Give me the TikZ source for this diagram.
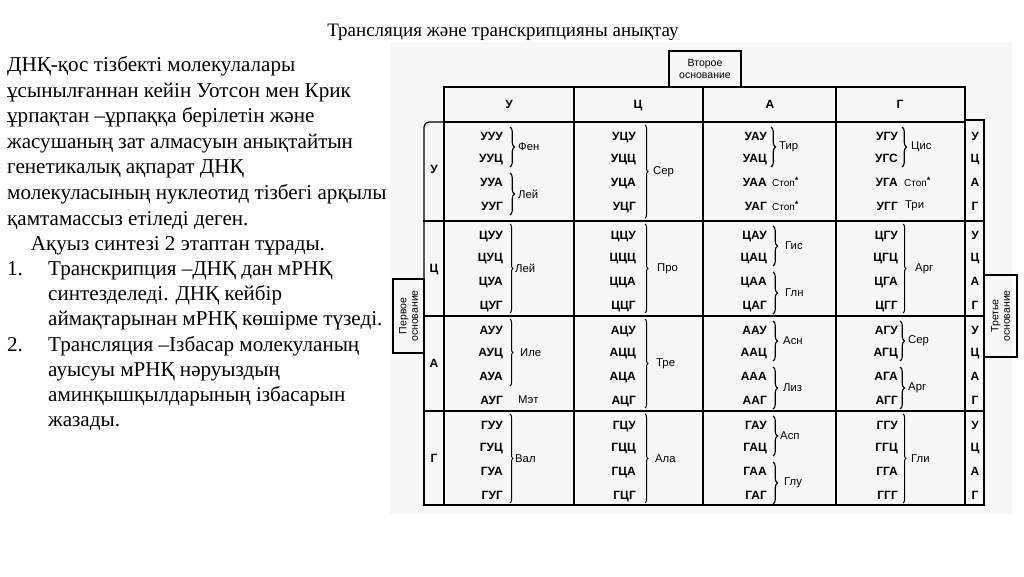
\documentclass[tikz,border=0pt]{standalone}
\usepackage{fontspec}
\setmainfont{Liberation Serif}
\setsansfont{Liberation Sans}
\usetikzlibrary{decorations.pathreplacing}
\tikzset{
  body/.style={anchor=base west, inner sep=0pt, font=\fontsize{21.1}{25}\selectfont},
  ttl/.style={anchor=base, inner sep=0pt, font=\fontsize{19}{21}\selectfont},
  codon/.style={anchor=east, inner sep=0pt, text height=8.6pt, text depth=0pt, font=\sffamily\bfseries\fontsize{12}{13}\selectfont},
  aa/.style={anchor=west, inner sep=0pt, font=\sffamily\fontsize{11.3}{13}\selectfont},
  stp/.style={anchor=west, inner sep=0pt, font=\sffamily\fontsize{10}{11}\selectfont},
  basel/.style={inner sep=0pt, text height=8.6pt, text depth=0pt, font=\sffamily\bfseries\fontsize{12}{13}\selectfont},
  boxlbl/.style={inner sep=0pt, align=center, font=\sffamily\fontsize{10.5}{11.5}\selectfont},
  frame/.style={line width=1.3pt, line cap=rect},
  sbrace/.style={decorate, decoration={brace, amplitude=4.5pt}, line width=1.1pt},
  bbrace/.style={decorate, decoration={brace, amplitude=3pt}, line width=1pt}
}
\newcommand{\stopmark}{\raisebox{3.5pt}{\bfseries\fontsize{9}{9}\selectfont *}}
\begin{document}
\begin{tikzpicture}[x=1pt,y=-1pt]
\useasboundingbox (0,0) rectangle (1024,576);
\fill[black!3] (390,42) rectangle (1012,514);

% title
\node[ttl] (title) at (503,36.7) {Трансляция және транскрипцияны анықтау};

% left text
\node[body] (l1) at (7,71.7) {ДНҚ-қос тізбекті молекулалары};
\node[body] (l2) at (7,97.2) {ұсынылғаннан кейін Уотсон мен Крик};
\node[body] (l3) at (7,122.8) {ұрпақтан –ұрпаққа берілетін және};
\node[body] (l4) at (7,148.3) {жасушаның зат алмасуын анықтайтын};
\node[body] (l5) at (7,173.9) {генетикалық ақпарат ДНҚ};
\node[body] (l6) at (7,199.4) {молекуласының нуклеотид тізбегі арқылы};
\node[body] (l7) at (7,225) {қамтамассыз етіледі деген.};
\node[body] (l8) at (30.7,250.7) {Ақуыз синтезі 2 этаптан тұрады.};
\node[body] (n1) at (7,275.7) {1.};
\node[body] (l9) at (48,275.7) {Транскрипция –ДНҚ дан мРНҚ};
\node[body] (l10) at (48,300.7) {синтезделеді. ДНҚ кейбір};
\node[body] (l11) at (48,325.7) {аймақтарынан мРНҚ көшірме түзеді.};
\node[body] (n2) at (7,351) {2.};
\node[body] (l12) at (48,351) {Трансляция –Ізбасар молекуланың};
\node[body] (l13) at (48,376.5) {ауысуы мРНҚ нәруыздың};
\node[body] (l14) at (48,401.7) {аминқышқылдарының ізбасарын};
\node[body] (l15) at (48,426.7) {жазады.};

% frame
\draw[frame] (669,87) rectangle (741,51);
\draw[frame] (444,87) rectangle (965,122);
\foreach \xx in {574,703,836} \draw[frame] (\xx,87) -- (\xx,505);
\draw[frame] (444,87) -- (444,505);
\draw[frame] (965,87) -- (965,505);
\draw[frame] (965,120) rectangle (984,505);
\draw[frame, rounded corners=5pt] (444,122) -- (424,122) -- (424,300);
\draw[frame] (424,300) -- (424,505) -- (984,505);
\foreach \yy in {221,316,411} \draw[frame] (424,\yy) -- (984,\yy);
\draw[frame] (393,279) rectangle (424,353);
\draw[frame] (984,275) rectangle (1017,357);

% box labels
\node[boxlbl] (second) at (705,69) {Второе\\основание};
\node[boxlbl, rotate=90] (first) at (408.5,316) {Первое\\основание};
\node[boxlbl, rotate=90] (third) at (1000.5,316) {Третье\\основание};

% header letters
\node[basel] (h1) at (509,104.5) {У};
\node[basel] (h2) at (638,104.5) {Ц};
\node[basel] (h3) at (770,104.5) {А};
\node[basel] (h4) at (900,104.5) {Г};

% codons and base letters
\foreach \r/\t/\fb in {1/122/У, 2/221/Ц, 3/316/А, 4/411/Г} {
  \node[basel] (fb\r) at (434,\t+47) {\fb};
  \foreach \s/\off/\tb in {1/14/У, 2/36/Ц, 3/60/А, 4/84/Г} {
    \node[basel] (tb\r\s) at (975,\t+\off) {\tb};
    \foreach \c/\xx/\sb in {1/503/У, 2/636/Ц, 3/767/А, 4/898/Г} {
      \ifnum\r\c\s=142 \def\cdn{УГС}\else\def\cdn{\fb\sb\tb}\fi
      \node[codon] (cod\r\c\s) at (\xx,\t+\off) {\cdn};
    }
  }
}

% row 1
\draw[sbrace] (510,127) -- (510,167);
\node[aa] (aFen) at (518,147) {Фен};
\draw[sbrace] (510,173) -- (510,215);
\node[aa] (aLei1) at (518,194) {Лей};
\draw[bbrace] (645,125) -- (645,218);
\node[aa] (aSer1) at (653,171.5) {Сер};
\draw[sbrace] (771,127) -- (771,167);
\node[aa] (aTir) at (779,147) {Тир};
\node[stp] (st1) at (772,182) {Стоп\stopmark};
\node[stp] (st2) at (772,206) {Стоп\stopmark};
\draw[sbrace] (902,127) -- (902,167);
\node[aa] (aCis) at (911,147) {Цис};
\node[stp] (st3) at (904,182) {Стоп\stopmark};
\node[aa] (aTri) at (905,206) {Три};

% row 2
\draw[bbrace] (510,224) -- (510,313);
\node[aa] (aLei2) at (515,268.5) {Лей};
\draw[bbrace] (645,224) -- (645,313);
\node[aa] (aPro) at (657,268.5) {Про};
\draw[sbrace] (773,226) -- (773,266);
\node[aa] (aGis) at (785,246) {Гис};
\draw[sbrace] (773,272) -- (773,314);
\node[aa] (aGln) at (785,293) {Глн};
\draw[bbrace] (903,224) -- (903,313);
\node[aa] (aArg1) at (915,268.5) {Арг};

% row 3
\draw[bbrace] (510,319) -- (510,386);
\node[aa] (aIle) at (520,352.5) {Иле};
\node[aa] (aMet) at (518,400) {Мэт};
\draw[bbrace] (645,319) -- (645,408);
\node[aa] (aTre) at (656,363.5) {Тре};
\draw[sbrace] (773,321) -- (773,361);
\node[aa] (aAsn) at (783,341) {Асн};
\draw[sbrace] (773,367) -- (773,409);
\node[aa] (aLiz) at (783,388) {Лиз};
\draw[sbrace] (900,321) -- (900,361);
\node[aa] (aSer2) at (908,341) {Сер};
\draw[sbrace] (900,367) -- (900,409);
\node[aa] (aArg2) at (908,388) {Арг};

% row 4
\draw[bbrace] (510,414) -- (510,503);
\node[aa] (aVal) at (515,458.5) {Вал};
\draw[bbrace] (645,414) -- (645,503);
\node[aa] (aAla) at (655,458.5) {Ала};
\draw[sbrace] (773,416) -- (773,456);
\node[aa] (aAsp) at (780,436) {Асп};
\draw[sbrace] (773,462) -- (773,504);
\node[aa] (aGlu) at (784,483) {Глу};
\draw[bbrace] (903,414) -- (903,503);
\node[aa] (aGli) at (911,458.5) {Гли};
\end{tikzpicture}
\end{document}
